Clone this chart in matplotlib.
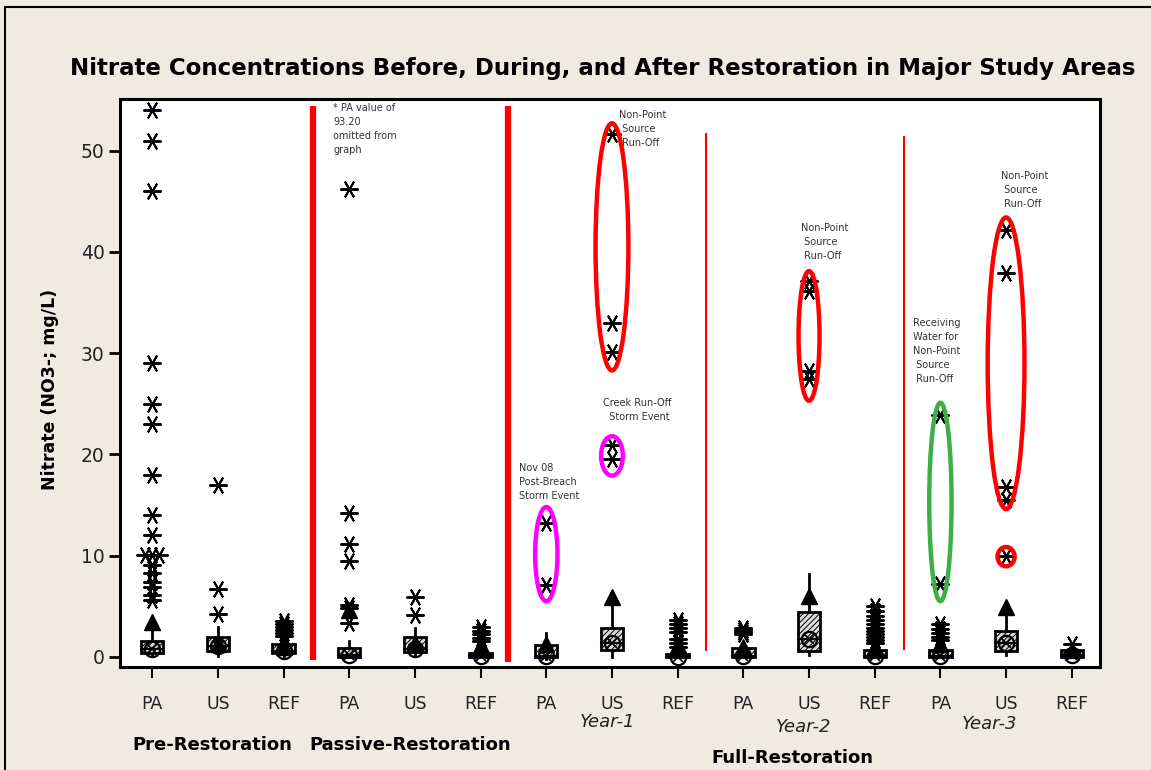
import numpy as np
import matplotlib.pyplot as plt
from matplotlib.patches import Ellipse, Rectangle
from matplotlib.lines import Line2D

plt.rcParams["font.family"] = ["DejaVu Sans"]
plt.rcParams["hatch.color"] = "#8a8a8a"
plt.rcParams["hatch.linewidth"] = 0.7

# ---- data (mg/L), one entry per group: PA/US/REF x 5 periods ----
groups = ["PA", "US", "REF"] * 5
q1 = [0.4, 0.6, 0.4, 0.0, 0.5, 0.0, 0.0, 0.7, 0.0, 0.0, 0.6, 0.0, 0.0, 0.6, 0.0]
median = [0.8, 1.1, 0.6, 0.2, 0.8, 0.1, 0.1, 1.4, 0.0, 0.1, 1.8, 0.1, 0.1, 1.4, 0.2]
q3 = [1.6, 2.0, 1.3, 0.9, 2.0, 0.4, 1.2, 2.9, 0.3, 0.9, 4.4, 0.7, 0.7, 2.6, 0.7]
whisk_lo = [0.1, 0.1, 0.1, 0.0, 0.2, 0.0, -0.2, 0.0, 0.0, 0.0, 0.2, 0.0, 0.0, 0.2, 0.0]
whisk_hi = [3.0, 3.0, 1.9, 1.6, 2.9, 0.9, 2.4, 5.5, 0.7, 1.3, 8.2, 1.0, 1.2, 4.3, 0.9]
mean = [3.4, 1.3, 1.0, 4.6, 1.4, 1.2, 1.3, 5.9, 1.2, 1.0, 6.0, 1.0, 1.3, 4.9, 0.7]
outliers = [
    [54.0, 51.0, 46.0, 29.0, 25.0, 23.0, 18.0, 14.0, 12.0, 10.1, 10.1, 10.1, 9.1, 8.3, 7.4, 6.9, 6.1, 5.6],
    [17.0, 6.7, 4.2],
    [3.5, 3.2, 3.0, 2.7, 2.4, 2.1],
    [46.2, 14.2, 11.1, 9.5, 5.1, 4.8, 3.3],
    [5.9, 4.1],
    [3.0, 2.6, 2.3, 1.9, 1.6],
    [13.2, 7.1],
    [51.6, 33.0, 30.1, 20.9, 19.5],
    [3.6, 3.2, 2.9, 2.5, 1.8, 1.4, 1.0],
    [2.9, 2.7, 2.5, 2.3],
    [37.1, 36.1, 28.2, 27.4],
    [5.0, 4.5, 4.0, 3.6, 3.2, 2.9, 2.6, 2.3, 2.0, 1.7, 1.4],
    [23.9, 7.2, 3.2, 2.8, 2.4, 2.0, 1.7],
    [42.2, 37.9, 16.8, 15.5, 10.0],
    [1.3],
]

# period dividers (between groups) and annotation ellipses
divider_x = [3.45, 6.42, 9.43, 12.45]
divider_y0 = [-0.3, -0.5, 0.6, 0.7]
divider_y1 = [54.4, 54.4, 51.7, 51.4]
divider_lw = [4.5, 4.5, 1.5, 1.5]

ell_x = [8, 8, 7, 11, 13, 14, 14]
ell_y = [40.5, 19.85, 10.15, 31.7, 15.3, 29.0, 9.9]
ell_h = [24.4, 3.9, 9.3, 12.8, 19.6, 28.8, 1.9]
ell_w = [0.50, 0.33, 0.34, 0.32, 0.34, 0.56, 0.26]
ell_color = ["#ff0000", "#ff00ff", "#ff00ff", "#ff0000", "#3cb044", "#ff0000", "#ff0000"]

W, H = 1151, 770
bg = "#efebe1"
fig = plt.figure(figsize=(W / 100, H / 100), dpi=100, facecolor=bg)
ax = fig.add_axes([120 / W, 1 - 667 / H, 980 / W, 568 / H])


def px(x, y):
    return x / W, 1 - y / H


xs = np.arange(1, len(groups) + 1)
bw = 0.34
star = (6, 2, 90)

for i, x in enumerate(xs):
    # whiskers
    ax.plot([x, x], [whisk_lo[i], q1[i]], color="black", lw=2, zorder=2)
    ax.plot([x, x], [q3[i], whisk_hi[i]], color="black", lw=2, zorder=2)
    # box
    ax.add_patch(Rectangle((x - bw / 2, q1[i]), bw, q3[i] - q1[i], facecolor="#dcdcdc",
                           edgecolor="black", lw=2, hatch="//////", zorder=3))
    ax.plot([x - bw / 2, x + bw / 2], [median[i], median[i]], color="black", lw=1.5, zorder=4)
    # median symbol
    ax.plot(x, median[i], marker="o", ms=11, mfc="none", mec="black", mew=1.6, zorder=5)
    ax.plot(x, median[i], marker="x", ms=7, mec="black", mew=1.3, zorder=5)
    # mean
    ax.plot(x, mean[i], marker="^", ms=12, color="black", zorder=5)
    # outliers, repeated values are drawn side by side
    vals = outliers[i]
    for v in sorted(set(vals)):
        n = vals.count(v)
        offs = (np.arange(n) - (n - 1) / 2) * 0.11
        ax.plot(x + offs, [v] * n, linestyle="none", marker=star, ms=13,
                mec="black", mew=1.4, zorder=6)

for xd, y0, y1, lw in zip(divider_x, divider_y0, divider_y1, divider_lw):
    ax.plot([xd, xd], [y0, y1], color="#ff0000", lw=lw, solid_capstyle="butt", zorder=1)

for ex, ey, eh, ew, ec in zip(ell_x, ell_y, ell_h, ell_w, ell_color):
    ax.add_patch(Ellipse((ex, ey), ew, eh, facecolor="none", edgecolor=ec, lw=3.2, zorder=7))

ax.set_xlim(0.51, 15.43)
ax.set_ylim(-1.0, 55.1)
ax.set_xticks(xs)
ax.set_xticklabels(groups, fontsize=12.5)
ax.set_yticks(np.arange(0, 51, 10))
ax.tick_params(axis="y", labelsize=13.5, length=8, width=2, pad=3, labelcolor="#222222")
ax.tick_params(axis="x", length=8, width=1.5, pad=12, labelcolor="#222222")
for s in ax.spines.values():
    s.set_linewidth(2.2)

# texts
fig.text(*px(603, 68), "Nitrate Concentrations Before, During, and After Restoration in Major Study Areas",
         ha="center", va="center", fontsize=16.5, fontweight="bold")
fig.text(*px(50, 389), "Nitrate (NO3-; mg/L)", rotation=90, ha="center", va="center",
         fontsize=12.5, fontweight="bold")

note_kw = dict(fontsize=7, color="#333333", va="top", ha="left", linespacing=1.5)
fig.text(*px(333, 103), "* PA value of\n93.20\nomitted from\ngraph", **note_kw)
fig.text(*px(619, 110), "Non-Point\n Source\n Run-Off", **note_kw)
fig.text(*px(603, 398), "Creek Run-Off\n  Storm Event", **note_kw)
fig.text(*px(519, 463), "Nov 08\nPost-Breach\nStorm Event", **note_kw)
fig.text(*px(801, 223), "Non-Point\n Source\n Run-Off", **note_kw)
fig.text(*px(913, 318), "Receiving\nWater for\nNon-Point\n Source\n Run-Off", **note_kw)
fig.text(*px(1001, 171), "Non-Point\n Source\n Run-Off", **note_kw)

for label, x, y in [("Year-1", 608, 722), ("Year-2", 804, 727), ("Year-3", 990, 724)]:
    fig.text(*px(x, y), label, ha="center", va="center", fontsize=13, style="italic", color="#222222")
for label, x, y in [("Pre-Restoration", 212, 745), ("Passive-Restoration", 410, 745),
                    ("Full-Restoration", 792, 758)]:
    fig.text(*px(x, y), label, ha="center", va="center", fontsize=13, fontweight="bold")

# outer frame (left and top edges)
fig.add_artist(Line2D([5 / W, 5 / W, 1], [0, 1 - 7 / H, 1 - 7 / H], color="black", lw=1.5))

fig.savefig("out.png", dpi=100, facecolor=bg)
